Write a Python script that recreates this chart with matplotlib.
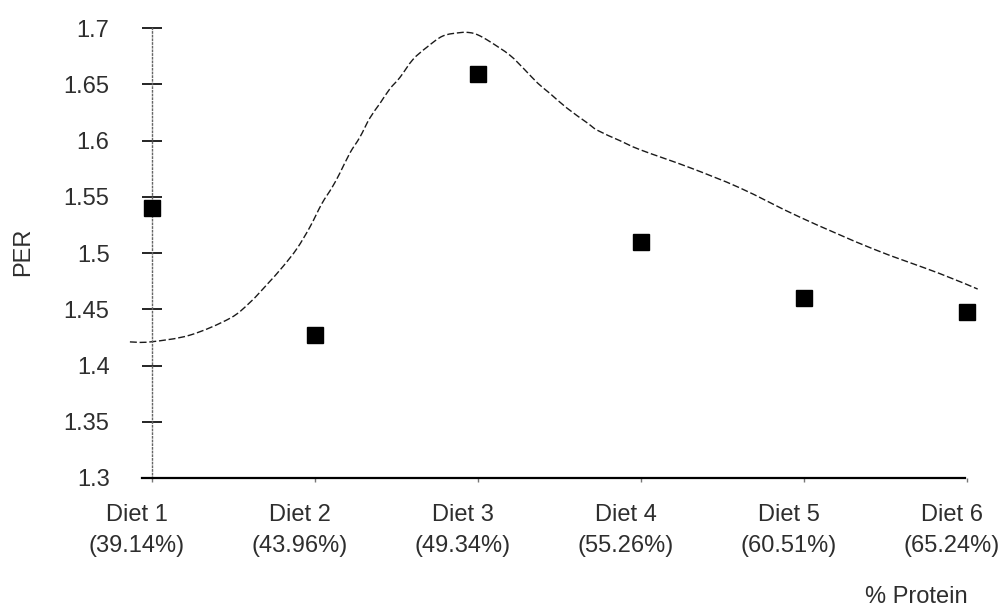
"""
    PER of the six diets against % protein, with the fitted response curve.
"""

import numpy as np
from matplotlib import pyplot as plt
from matplotlib import transforms
from matplotlib.path import Path
from matplotlib.patches import PathPatch

plt.rcParams['font.family'] = ['Liberation Sans', 'DejaVu Sans']

diets = ['Diet 1', 'Diet 2', 'Diet 3', 'Diet 4', 'Diet 5', 'Diet 6']
protein = ['39.14%', '43.96%', '49.34%', '55.26%', '60.51%', '65.24%']
per_obs = [1.54, 1.427, 1.659, 1.51, 1.46, 1.448]

# fitted curve (x in diet units, 0 = Diet 1)
curve_x = [-0.135, -0.01, 0.233, 0.479, 0.601, 0.706, 0.804, 0.890, 0.969,
           1.043, 1.104, 1.153, 1.215, 1.276, 1.337, 1.399, 1.460, 1.521,
           1.601, 1.687, 1.785, 1.890, 1.951, 2.0, 2.074, 2.196, 2.288,
           2.368, 2.442, 2.546, 2.669, 2.736, 2.871, 2.994, 3.30, 3.607,
           3.975, 4.42, 4.83, 5.067]
curve_y = [1.421, 1.421, 1.427, 1.442, 1.456, 1.472, 1.488, 1.504, 1.523,
           1.544, 1.558, 1.571, 1.589, 1.603, 1.620, 1.633, 1.646, 1.656,
           1.672, 1.683, 1.693, 1.696, 1.696, 1.694, 1.688, 1.676, 1.663,
           1.651, 1.642, 1.629, 1.616, 1.609, 1.600, 1.592, 1.576, 1.558,
           1.532, 1.504, 1.482, 1.468]

yticks = [1.3, 1.35, 1.4, 1.45, 1.5, 1.55, 1.6, 1.65, 1.7]

TXT = '#2e2e2e'


def _smooth_path(xs, ys):
    """Catmull-Rom through the points, handed to matplotlib as Bezier segments"""
    pts = np.column_stack([xs, ys])
    verts = [pts[0]]
    codes = [Path.MOVETO]
    n = len(pts)
    for i in range(n - 1):
        p0 = pts[max(i - 1, 0)]
        p1 = pts[i]
        p2 = pts[i + 1]
        p3 = pts[min(i + 2, n - 1)]
        c1 = p1 + (p2 - p0) / 6.0
        c2 = p2 - (p3 - p1) / 6.0
        verts += [c1, c2, p2]
        codes += [Path.CURVE4] * 3
    return Path(verts, codes)


fig = plt.figure(figsize=(10.06, 6.12), dpi=100)
ax = fig.add_axes([0.151, 0.219, 0.810, 0.735])

x = np.arange(len(diets))

patch = PathPatch(_smooth_path(curve_x, curve_y), facecolor='none',
                  edgecolor='#1a1a1a', lw=1.0, linestyle=(0, (5, 2)),
                  clip_on=False)
ax.add_patch(patch)

ax.plot(x, per_obs, linestyle='none', marker='s', markersize=11.5,
        markerfacecolor='black', markeredgecolor='black', clip_on=False,
        zorder=5)

ax.set_xlim(0, 5)
ax.set_ylim(1.3, 1.7)

ax.set_yticks(yticks)
ax.set_yticklabels(['%g' % v for v in yticks])
ax.tick_params(axis='y', direction='inout', length=15, width=1.2,
               color='black', pad=23, labelsize=17, labelcolor=TXT)

ax.set_xticks(x)
ax.set_xticklabels(['%s\n(%s)' % (d, p) for d, p in zip(diets, protein)],
                   linespacing=1.5)
ax.tick_params(axis='x', direction='out', length=3, width=1, color='#777777',
               pad=16, labelsize=17, labelcolor=TXT)

# the scanned labels sit a little left of their ticks
shift = transforms.ScaledTranslation(-0.15, 0, fig.dpi_scale_trans)
for lab in ax.get_xticklabels():
    lab.set_transform(lab.get_transform() + shift)

for side in ('top', 'right'):
    ax.spines[side].set_visible(False)
ax.spines['left'].set_linestyle(':')
ax.spines['left'].set_color('#666666')
ax.spines['left'].set_linewidth(1.0)
ax.spines['bottom'].set_color('black')
ax.spines['bottom'].set_linewidth(1.6)
ax.spines['bottom'].set_bounds(-0.06, 4.99)

fig.text(0.023, 0.588, 'PER', rotation=90, ha='center', va='center',
         fontsize=17, color=TXT)
fig.text(0.911, 0.025, '% Protein', ha='center', va='center',
         fontsize=17, color=TXT)

fig.savefig('out.png', dpi=100)
